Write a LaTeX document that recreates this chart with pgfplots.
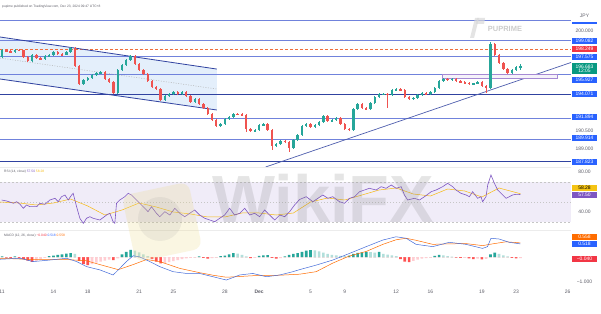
\documentclass[border=0pt]{standalone}
\usepackage{fontspec}
\setmainfont{Liberation Sans}
\usepackage{pgfplots}
\pgfplotsset{compat=1.18}
\usepackage{pgfplotstable}

\definecolor{upc}{RGB}{38,166,154}
\definecolor{dnc}{RGB}{239,83,80}
\definecolor{lineblue}{RGB}{112,130,220}
\definecolor{darkblue}{RGB}{48,66,160}
\definecolor{tvblue}{RGB}{41,98,255}
\definecolor{tvred}{RGB}{242,54,69}
\definecolor{tvgreen}{RGB}{8,153,129}
\definecolor{tvorange}{RGB}{255,109,0}
\definecolor{tvpurple}{RGB}{126,87,194}
\definecolor{tvyellow}{RGB}{245,196,20}
\definecolor{chan}{RGB}{228,239,251}
\definecolor{band}{RGB}{240,236,248}
\definecolor{txtgrey}{RGB}{95,95,105}
\definecolor{hlg}{RGB}{178,223,219}
\definecolor{hlr}{RGB}{255,205,210}
\definecolor{hdr}{RGB}{255,82,82}
\definecolor{dashor}{RGB}{240,110,60}

\pgfplotstableread{
x o h l c
0.00 197.54 198.25 197.45 198.18
0.25 198.18 198.28 198.02 198.09
0.50 198.09 198.15 197.92 198.00
0.75 198.00 198.26 197.95 198.18
1.00 198.18 198.24 198.08 198.15
1.25 198.15 198.20 197.48 197.54
1.50 197.54 197.62 197.08 197.17
1.75 197.17 197.80 197.12 197.72
2.00 197.72 197.78 197.38 197.44
2.25 197.44 197.52 197.28 197.35
2.50 197.35 197.70 197.30 197.63
2.75 197.63 197.80 197.58 197.72
3.00 197.72 198.08 197.66 198.00
3.25 198.00 198.06 197.75 197.81
3.50 197.81 197.88 197.65 197.72
3.75 197.72 198.06 197.68 198.00
4.00 198.00 198.45 197.95 198.37
4.25 198.37 198.46 196.62 196.70
4.50 196.70 196.78 194.95 195.04
4.75 195.04 195.50 194.98 195.41
5.00 195.41 195.66 195.33 195.59
5.25 195.59 195.95 195.52 195.87
5.50 195.87 196.12 195.80 196.05
5.75 196.05 196.24 195.98 196.15
6.00 196.15 196.20 195.44 195.50
6.25 195.50 195.58 195.14 195.22
6.50 195.22 195.30 194.08 194.20
6.75 194.20 196.40 194.12 196.33
7.00 196.33 196.88 196.26 196.80
7.25 196.80 197.34 196.72 197.26
7.50 197.26 197.75 197.20 197.63
7.75 197.63 197.70 196.82 196.89
8.00 196.89 196.96 196.26 196.33
8.25 196.33 196.40 195.88 195.96
8.50 195.96 196.04 195.24 195.31
8.75 195.31 195.38 194.68 194.76
9.00 194.76 194.85 194.50 194.57
9.25 194.57 194.64 193.48 193.55
9.50 193.55 194.00 193.47 193.92
9.75 193.92 194.18 193.86 194.11
10.00 194.11 194.38 194.04 194.30
10.25 194.30 194.36 194.04 194.11
10.50 194.11 194.37 194.05 194.30
10.75 194.30 194.35 193.85 193.92
11.00 193.92 193.98 193.30 193.37
11.25 193.37 193.72 193.30 193.65
11.50 193.65 193.70 193.10 193.18
11.75 193.18 193.26 192.74 192.81
12.00 192.81 192.88 192.18 192.26
12.25 192.26 192.33 191.62 191.70
12.50 191.70 191.78 191.06 191.15
12.75 191.15 191.42 191.08 191.33
13.00 191.33 191.88 191.26 191.80
13.25 191.80 192.06 191.72 191.98
13.50 191.98 192.33 191.90 192.26
13.75 192.26 192.34 192.16 192.22
14.00 192.22 192.32 192.10 192.17
14.25 192.17 192.24 190.60 190.87
14.50 190.87 190.95 190.60 190.68
14.75 190.68 190.86 190.60 190.78
15.00 190.78 191.32 190.70 191.24
15.25 191.24 191.42 191.16 191.33
15.50 191.33 191.40 190.70 190.78
15.75 190.78 190.85 188.93 189.30
16.00 189.30 189.56 189.22 189.48
16.25 189.48 189.84 189.40 189.76
16.50 189.76 189.84 189.58 189.67
16.75 189.67 189.75 188.74 189.11
17.00 189.11 189.93 189.04 189.85
17.25 189.85 190.38 189.78 190.31
17.50 190.31 191.22 190.24 191.15
17.75 191.15 191.42 191.08 191.33
18.00 191.33 191.40 190.98 191.05
18.25 191.05 191.32 190.98 191.24
18.50 191.24 191.60 191.16 191.52
18.75 191.52 192.15 191.45 192.07
19.00 192.07 192.14 191.54 191.61
19.25 191.61 191.78 191.54 191.70
19.50 191.70 191.97 191.62 191.89
19.75 191.89 191.96 191.26 191.33
20.00 191.33 191.40 190.80 190.87
20.25 190.87 190.94 190.70 190.78
20.50 190.78 192.80 190.70 192.72
20.75 192.72 193.26 192.64 193.18
21.00 193.18 193.25 192.74 192.81
21.25 192.81 192.90 192.64 192.72
21.50 192.72 193.36 192.65 193.28
21.75 193.28 193.91 193.20 193.83
22.00 193.83 194.19 193.76 194.11
22.25 194.11 194.22 194.02 194.15
22.50 194.15 194.20 192.81 194.02
22.75 194.02 194.56 193.95 194.48
23.00 194.48 194.65 194.40 194.57
23.25 194.57 194.64 194.40 194.48
23.50 194.48 194.55 193.76 193.83
23.75 193.83 193.90 193.58 193.65
24.00 193.65 193.82 193.58 193.74
24.25 193.74 194.10 193.67 194.02
24.50 194.02 194.28 193.95 194.20
24.75 194.20 194.27 194.04 194.11
25.00 194.11 194.38 194.04 194.30
25.25 194.30 194.75 194.22 194.67
25.50 194.67 195.39 194.60 195.31
25.75 195.31 195.58 195.24 195.50
26.00 195.50 195.57 195.34 195.41
26.25 195.41 195.58 195.34 195.50
26.50 195.50 195.57 195.24 195.31
26.75 195.31 195.38 195.15 195.22
27.00 195.22 195.29 195.06 195.13
27.25 195.13 195.20 194.97 195.04
27.50 195.04 195.14 194.98 195.10
27.75 195.10 195.30 195.03 195.22
28.00 195.22 195.29 194.78 194.85
28.25 194.85 194.92 194.20 194.67
28.50 194.67 198.95 194.60 198.74
28.75 198.74 198.82 197.65 197.72
29.00 197.72 197.80 196.90 196.98
29.25 196.98 197.05 196.35 196.42
29.50 196.42 196.50 195.95 196.05
29.75 196.05 196.40 195.98 196.33
30.00 196.33 196.68 196.26 196.61
30.25 196.61 196.88 196.30 196.683
}\candles

\pgfplotstableread{
x h k
0.00 0.02 1
0.25 -0.02 3
0.50 -0.03 3
0.75 0.02 1
1.00 -0.03 3
1.25 -0.08 3
1.50 -0.14 3
1.75 -0.19 3
2.00 -0.15 4
2.25 -0.08 4
2.50 -0.03 4
2.75 0.03 1
3.00 0.05 1
3.25 0.08 1
3.50 0.10 1
3.75 0.13 1
4.00 0.15 1
4.25 0.12 2
4.50 -0.15 3
4.75 -0.28 3
5.00 -0.32 3
5.25 -0.28 4
5.50 -0.22 4
5.75 -0.18 4
6.00 -0.14 4
6.25 -0.10 4
6.50 -0.12 3
6.75 -0.05 4
7.00 0.10 1
7.25 0.20 1
7.50 0.28 1
7.75 0.25 2
8.00 0.18 2
8.25 0.10 2
8.50 0.03 2
8.75 -0.08 3
9.00 -0.18 3
9.25 -0.25 3
9.50 -0.24 4
9.75 -0.20 4
10.00 -0.16 4
10.25 -0.12 4
10.50 -0.08 4
10.75 -0.05 4
11.00 -0.03 4
11.25 -0.02 4
11.50 0.02 1
11.75 -0.03 3
12.00 -0.06 3
12.25 -0.04 4
12.50 -0.02 4
12.75 0.03 1
13.00 0.05 1
13.25 0.10 1
13.50 0.15 1
13.75 0.13 2
14.00 0.08 2
14.25 0.02 2
14.50 -0.04 3
14.75 -0.03 4
15.00 0.04 1
15.25 0.06 1
15.50 0.07 1
15.75 -0.03 3
16.00 -0.06 3
16.25 -0.04 4
16.50 0.02 1
16.75 0.08 1
17.00 0.12 1
17.25 0.15 1
17.50 0.20 1
17.75 0.25 1
18.00 0.27 1
18.25 0.26 2
18.50 0.22 2
18.75 0.17 2
19.00 0.12 2
19.25 0.08 2
19.50 0.06 2
19.75 0.04 2
20.00 0.03 2
20.25 0.05 1
20.50 0.12 1
20.75 0.16 1
21.00 0.18 1
21.25 0.20 1
21.50 0.19 2
21.75 0.17 2
22.00 0.20 1
22.25 0.12 2
22.50 0.09 2
22.75 0.06 2
23.00 0.03 2
23.25 -0.08 3
23.50 -0.18 3
23.75 -0.20 3
24.00 -0.15 4
24.25 -0.10 4
24.50 -0.06 4
24.75 -0.04 4
25.00 -0.02 4
25.25 0.04 1
25.50 0.08 1
25.75 0.06 2
26.00 0.03 2
26.25 0.01 2
26.50 -0.02 3
26.75 -0.03 3
27.00 -0.02 4
27.25 -0.05 3
27.50 -0.08 3
27.75 -0.06 4
28.00 -0.09 3
28.25 -0.07 4
28.50 0.10 1
28.75 0.17 1
29.00 0.12 2
29.25 0.06 2
29.50 0.02 2
29.75 -0.03 3
30.00 -0.05 3
30.25 -0.04 4
}\hist

\pgfplotstableread{
x v
-0.02 52.0
0.27 51.0
0.66 48.7
0.85 50.3
1.05 47.7
1.24 43.7
1.43 47.0
1.63 45.3
2.02 45.3
2.21 48.7
2.50 47.7
2.79 52.0
3.09 53.7
3.28 50.3
3.47 55.3
3.67 57.0
3.86 52.0
4.06 57.0
4.15 58.7
4.35 45.3
4.54 33.7
4.74 28.7
4.93 33.7
5.12 35.3
5.32 33.7
5.71 32.0
6.10 37.0
6.29 38.7
6.48 30.3
6.58 28.7
6.68 48.7
6.87 52.0
7.16 55.3
7.36 58.7
7.55 57.0
7.75 53.7
8.04 48.7
8.33 43.7
8.52 40.3
8.72 45.3
9.01 38.7
9.20 35.3
9.50 40.3
9.79 37.0
10.08 43.7
10.37 38.7
10.66 35.3
10.95 38.7
11.24 42.0
11.53 37.0
11.83 33.7
12.12 32.0
12.41 30.3
12.70 33.7
12.99 37.0
13.28 43.7
13.57 37.0
13.87 38.7
14.16 43.7
14.45 37.0
14.74 38.7
15.03 35.3
15.32 42.0
15.61 37.0
15.91 32.0
16.20 37.0
16.49 35.3
16.78 40.3
17.07 47.0
17.36 52.5
17.75 55.3
18.14 50.3
18.43 53.7
18.72 57.0
19.01 53.7
19.30 55.3
19.69 50.3
19.98 48.7
20.28 53.7
20.57 55.3
20.86 60.3
21.15 62.0
21.44 63.7
21.83 62.0
22.12 65.3
22.41 63.7
22.71 67.0
23.00 63.7
23.29 65.3
23.48 57.0
23.67 52.0
24.06 53.7
24.36 52.0
24.65 55.3
25.04 60.3
25.33 62.0
25.71 65.3
26.00 68.7
26.30 65.3
26.49 62.0
26.78 58.7
27.08 57.0
27.27 55.3
27.46 60.3
27.75 53.7
27.95 55.3
28.04 50.3
28.24 55.3
28.34 67.0
28.53 77.0
28.73 68.7
28.92 62.0
29.12 58.7
29.41 53.7
29.60 55.3
29.79 57.0
29.99 57.7
30.25 57.50
}\rsi

\pgfplotstableread{
x v
-0.12 50
1 49
2 47
3 49
4 53
5 46
6 37
7 42
8 49
9 45
10 40
11 38
12 35
13 35
14 39
15 39
16 37
17 39
18 50
19 54
20 52
21 57
22 62
23 64
24 58
25 56
26 63
27 61
28 55
29 64
30.25 58.28
}\rsima

\pgfplotstableread{
x v
-0.12 -0.09
1.05 -0.05
1.82 -0.18
2.79 -0.12
3.77 -0.05
4.35 -0.18
4.93 -0.38
5.71 -0.51
6.48 -0.71
6.78 -0.51
7.26 -0.18
7.65 0.05
8.04 0.00
8.62 -0.18
9.20 -0.38
9.98 -0.58
10.76 -0.65
11.53 -0.65
12.31 -0.78
13.09 -0.91
13.87 -0.71
14.64 -0.65
15.42 -0.78
16.20 -0.71
16.97 -0.58
17.36 -0.50
18.33 -0.32
19.30 -0.12
20.27 0.14
21.25 0.41
22.22 0.67
22.99 0.80
23.58 0.74
24.16 0.50
25.13 0.41
26.10 0.58
27.07 0.50
28.04 0.34
28.33 0.41
28.53 0.74
29.01 0.71
29.60 0.58
30.25 0.518
}\macd

\pgfplotstableread{
x v
-0.12 -0.05
1.82 -0.10
3.77 -0.10
4.93 -0.15
5.71 -0.30
6.78 -0.50
7.65 -0.30
8.43 -0.10
9.20 -0.18
10.37 -0.45
11.53 -0.62
12.31 -0.72
13.09 -0.80
14.64 -0.74
16.20 -0.72
17.36 -0.68
18.33 -0.58
19.30 -0.24
20.27 0.04
21.25 0.22
22.22 0.50
22.99 0.68
23.58 0.74
24.16 0.66
25.13 0.50
26.10 0.52
27.07 0.53
28.04 0.45
28.63 0.52
29.40 0.60
30.25 0.558
}\signal

\newcommand{\lblf}{\fontsize{5}{5.5}\selectfont}
\tikzset{
  pb/.style={inner sep=0pt, minimum width=25bp, minimum height=6.6bp, font=\lblf, text=white},
  pg/.style={inner sep=0pt, font=\lblf, text=txtgrey}
}
\pgfplotsset{
  tvaxis/.style={scale only axis, width=571bp, xmin=-0.12, xmax=33.2,
    axis line style={draw=none}, tick style={draw=none},
    xtick=\empty, ytick=\empty, clip mode=individual, anchor=south west},
  wick/.style 2 args={draw=none, mark=none, forget plot, restrict y to domain=#1,
    error bars/.cd, y dir=both, y explicit, error mark=none,
    error bar style={line width=0.6bp, draw=#2, solid}},
  body/.style 2 args={draw=none, mark=none, forget plot, restrict y to domain=#1,
    error bars/.cd, y dir=both, y explicit, error mark=none,
    error bar style={line width=2.4bp, draw=#2, solid}}
}

\begin{document}
\begin{tikzpicture}
\useasboundingbox (0,0) rectangle (601bp,314bp);
\fill[white] (0,0) rectangle (601bp,314bp);

% ---------- price pane ----------
\begin{axis}[tvaxis, at={(0bp,147bp)}, height=157bp, ymin=187.35, ymax=201.89]
  \addplot[fill=chan, draw=none] coordinates {(-0.12,199.39) (12.53,196.42) (12.53,192.63) (-0.12,195.50)} -- cycle;
  \addplot[lineblue, line width=0.5bp] coordinates {(-0.12,200.96) (33.2,200.96)};
  \addplot[lineblue, line width=0.7bp] coordinates {(-0.12,199.082) (33.2,199.082)};
  \addplot[lineblue, line width=0.5bp] coordinates {(-0.12,197.575) (33.2,197.575)};
  \addplot[lineblue, line width=0.5bp] coordinates {(-0.12,195.927) (33.2,195.927)};
  \addplot[darkblue, line width=0.9bp] coordinates {(-0.12,194.071) (33.2,194.071)};
  \addplot[lineblue, line width=0.5bp] coordinates {(-0.12,191.894) (33.2,191.894)};
  \addplot[lineblue, line width=0.5bp] coordinates {(-0.12,189.914) (33.2,189.914)};
  \addplot[darkblue, line width=0.9bp] coordinates {(-0.12,187.823) (33.2,187.823)};
  \addplot[dashor, line width=0.6bp, dash pattern=on 3bp off 2bp] coordinates {(-0.12,198.249) (33.2,198.249)};
  \addplot[darkblue, line width=0.8bp] coordinates {(-0.12,199.39) (12.53,196.42)};
  \addplot[darkblue, line width=0.8bp] coordinates {(-0.12,195.50) (12.53,192.63)};
  \addplot[gray!60, line width=0.5bp, dash pattern=on 1bp off 1.5bp] coordinates {(-0.12,197.44) (12.53,194.57)};
  \addplot[darkblue!85, line width=0.7bp] coordinates {(15.38,187.35) (33.2,197.03)};
  \addplot[draw=tvpurple!70, fill=tvpurple!8, line width=0.5bp] coordinates {(25.7,195.93) (32.4,195.93) (32.4,195.55) (25.7,195.55)} -- cycle;
  % wicks
  \addplot[wick={180:210}{upc}] table[x=x, y expr={(\thisrow{h}+\thisrow{l})/2+100*(\thisrow{c}<\thisrow{o})}, y error expr={(\thisrow{h}-\thisrow{l})/2}] {\candles};
  \addplot[wick={180:210}{dnc}] table[x=x, y expr={(\thisrow{h}+\thisrow{l})/2+100*(1-(\thisrow{c}<\thisrow{o}))}, y error expr={(\thisrow{h}-\thisrow{l})/2}] {\candles};
  % bodies
  \addplot[body={180:210}{upc}] table[x=x, y expr={(\thisrow{o}+\thisrow{c})/2+100*(\thisrow{c}<\thisrow{o})}, y error expr={max(abs(\thisrow{c}-\thisrow{o})/2,0.025)}] {\candles};
  \addplot[body={180:210}{dnc}] table[x=x, y expr={(\thisrow{o}+\thisrow{c})/2+100*(1-(\thisrow{c}<\thisrow{o}))}, y error expr={max(abs(\thisrow{c}-\thisrow{o})/2,0.025)}] {\candles};
\end{axis}

% ---------- RSI pane ----------
\begin{axis}[tvaxis, at={(0bp,84bp)}, height=62bp, ymin=22, ymax=84]
  \addplot[fill=band, draw=none] coordinates {(-0.12,30) (33.2,30) (33.2,70) (-0.12,70)} -- cycle;
  \addplot[gray!45, line width=0.4bp, dash pattern=on 2bp off 2bp] coordinates {(-0.12,70) (33.2,70)};
  \addplot[gray!45, line width=0.4bp, dash pattern=on 1bp off 2bp] coordinates {(-0.12,50) (33.2,50)};
  \addplot[gray!45, line width=0.4bp, dash pattern=on 2bp off 2bp] coordinates {(-0.12,30) (33.2,30)};
  \addplot[tvyellow!85!orange, line width=0.5bp] table[x=x, y=v] {\rsima};
  \addplot[tvpurple, line width=0.6bp] table[x=x, y=v] {\rsi};
\end{axis}

% ---------- MACD pane ----------
\begin{axis}[tvaxis, at={(0bp,28bp)}, height=56bp, ymin=-1.146, ymax=1.067,
  xtick={0,3,5,8,10,13,15,18,20,23,25,28,30,33},
  xticklabels={11,14,18,21,25,28,\textbf{Dec},5,9,12,16,19,23,26},
  xticklabel style={font=\lblf, text=txtgrey, inner sep=0pt, anchor=center, yshift=-6bp}]
  \addplot[ybar, bar width=2.6bp, bar shift=0pt, fill=upc, draw=none] table[x=x, y expr={\thisrow{h}*(\thisrow{k}==1)}] {\hist};
  \addplot[ybar, bar width=2.6bp, bar shift=0pt, fill=hlg, draw=none] table[x=x, y expr={\thisrow{h}*(\thisrow{k}==2)}] {\hist};
  \addplot[ybar, bar width=2.6bp, bar shift=0pt, fill=hdr, draw=none] table[x=x, y expr={\thisrow{h}*(\thisrow{k}==3)}] {\hist};
  \addplot[ybar, bar width=2.6bp, bar shift=0pt, fill=hlr, draw=none] table[x=x, y expr={\thisrow{h}*(\thisrow{k}==4)}] {\hist};
  \addplot[tvorange, line width=0.5bp] table[x=x, y=v] {\signal};
  \addplot[tvblue!70!gray, line width=0.5bp] table[x=x, y=v] {\macd};
\end{axis}

% pane separators
\draw[gray!15, line width=0.4bp] (0,146.5bp) -- (571bp,146.5bp);
\draw[gray!15, line width=0.4bp] (0,84bp) -- (571bp,84bp);

% header and titles
\node[anchor=west, inner sep=0pt, font=\fontsize{3.3}{4}\selectfont, text=txtgrey] at (2bp,307bp) {pupime published on TradingView.com, Dec 23, 2024 09:47 UTC+8};
\node[anchor=west, inner sep=0pt, font=\fontsize{3.3}{4}\selectfont, text=txtgrey] at (4bp,142bp) {RSI (14, close)\ \textcolor{tvpurple}{57.50}\ \textcolor{tvyellow!85!orange}{58.28}};
\node[anchor=west, inner sep=0pt, font=\fontsize{3.3}{4}\selectfont, text=txtgrey] at (4bp,78bp) {MACD (12, 26, close)\ \textcolor{tvred}{−0.040}\ \textcolor{tvblue}{0.518}\ \textcolor{tvorange}{0.558}};

% right price scale
\node[pg] at (584.5bp,298bp) {JPY};
\fill[tvblue] (572bp,290bp) rectangle (597bp,292bp);
\node[pg] at (584.5bp,283bp) {200.000};
\node[pb, fill=tvblue] at (584.5bp,273bp) {199.082};
\node[pb, fill=tvred] at (584.5bp,265bp) {198.249};
\node[pb, fill=tvblue] at (584.5bp,257bp) {197.575};
\node[pb, fill=tvgreen, minimum height=11bp, align=center] at (584.5bp,245.5bp) {196.683\\[-1.2pt]12:05};
\node[pb, fill=tvblue] at (584.5bp,234bp) {195.927};
\node[pb, fill=tvblue] at (584.5bp,220bp) {194.071};
\node[pb, fill=tvblue] at (584.5bp,197bp) {191.894};
\node[pg] at (584.5bp,183bp) {190.500};
\node[pb, fill=tvblue] at (584.5bp,176bp) {189.914};
\node[pg] at (584.5bp,165bp) {189.000};
\node[pb, fill=tvblue] at (584.5bp,152bp) {187.823};
% RSI scale
\node[pg] at (584.5bp,142bp) {80.00};
\node[pb, fill=tvyellow, text=black] at (584.5bp,126bp) {58.28};
\node[pb, fill=tvpurple] at (584.5bp,119bp) {57.50};
\node[pg] at (584.5bp,102bp) {40.00};
% MACD scale
\node[pb, fill=tvorange] at (584.5bp,77bp) {0.558};
\node[pb, fill=tvblue] at (584.5bp,70bp) {0.518};
\node[pb, fill=tvred] at (584.5bp,55bp) {−0.040};
\node[pg] at (584.5bp,32bp) {−1.000};

% watermarks
\fill[gray!30, opacity=0.7] (470bp,276bp) -- (474bp,276bp) -- (479bp,296bp) -- (475bp,296bp) -- cycle;
\fill[gray!30, opacity=0.7] (476bp,290bp) -- (484bp,290bp) -- (485bp,296bp) -- (477bp,296bp) -- cycle;
\node[font=\fontsize{7.5}{8}\selectfont\bfseries, text=gray!40] at (505bp,285bp) {PUPRIME};
\node[rotate=12, fill={rgb,255:red,236;green,220;blue,140}, opacity=0.25, rounded corners=9bp, minimum width=68bp, minimum height=68bp] at (162bp,92bp) {};
\fill[gray, opacity=0.1] (160bp,95bp) circle (22bp);
\node[font=\fontsize{67}{70}\selectfont\bfseries, text=gray, opacity=0.2] at (323bp,116bp) {WikiFX};
\end{tikzpicture}
\end{document}
